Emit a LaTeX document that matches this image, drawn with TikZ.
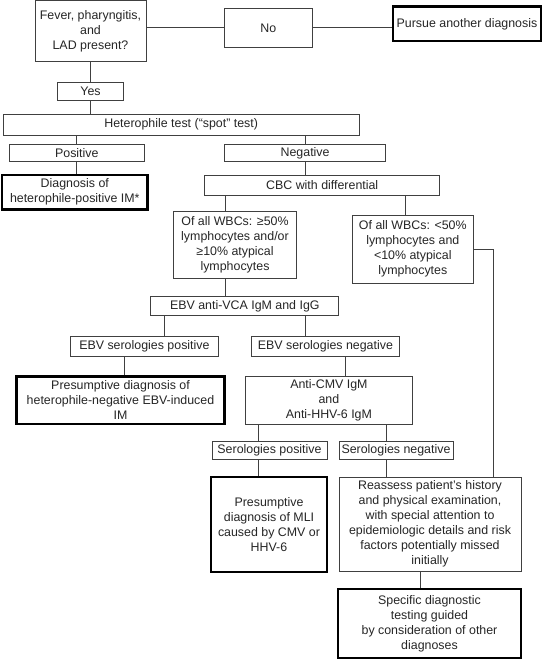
\documentclass[tikz,border=0pt]{standalone}
\usepackage{fontspec}
\setmainfont{Liberation Sans}
\begin{document}
\begin{tikzpicture}[x=1pt,y=-1pt,
  box/.style={draw=black!75,line width=0.9pt,inner sep=0pt,align=center,
    text=black!85,font=\fontsize{12.4}{15}\selectfont},
  thick box/.style={box,draw=black,line width=2.6pt},
  conn/.style={draw=black!75,line width=0.9pt}]
\useasboundingbox[fill=white] (0,0) rectangle (544,660);
\newcommand{\bx}[6]{\node[#1,minimum width=#4pt,minimum height=#5pt] (#2) at (#3) {#6};}
\bx{box}{fever}{90.5,30.8}{111}{60.5}{Fever, pharyngitis,\\and\\LAD present?}
\bx{box}{no}{268.4,27.8}{87.3}{39}{No}
\bx{thick box}{pursue}{467,23.9}{148}{34.3}{Pursue another diagnosis}
\bx{box}{yes}{90.5,91.4}{65.5}{18.7}{Yes}
\bx{box}{het}{181.2,124.7}{355.5}{20.7}{Heterophile test (“spot” test)}
\bx{box}{pos}{76.8,153.3}{134.3}{16.7}{Positive}
\bx{box}{neg}{305.1,153.3}{160.9}{16.7}{Negative}
\bx{thick box}{diag}{74.8,192.2}{145.6}{34.3}{Diagnosis of\\heterophile-positive IM*}
\bx{box}{cbc}{322.2,185}{235}{20}{CBC with differential}
\bx{box}{lwbc}{235,245}{123}{66.7}{Of all WBCs: ≥50\%\\lymphocytes and/or\\≥10\% atypical\\lymphocytes}
\bx{box}{rwbc}{412.8,249}{120.4}{68}{Of all WBCs: <50\%\\lymphocytes and\\<10\% atypical\\lymphocytes}
\bx{box}{vca}{244.8,306.2}{188}{19}{EBV anti-VCA IgM and IgG}
\bx{box}{ebvp}{144.4,346.7}{148}{20}{EBV serologies positive}
\bx{box}{ebvn}{325.4,346.7}{148}{20}{EBV serologies negative}
\bx{thick box}{pres}{120.5,400.3}{208.4}{47.3}{Presumptive diagnosis of\\heterophile-negative EBV-induced\\IM}
\bx{box}{cmv}{328.9,400.3}{167.5}{47.3}{Anti-CMV IgM\\and\\Anti-HHV-6 IgM}
\bx{box}{serp}{269.5,450}{115}{18}{Serologies positive}
\bx{box}{sern}{396,450}{114}{18}{Serologies negative}
\bx{thick box}{mli}{269,524.5}{116}{95}{Presumptive\\diagnosis of MLI\\caused by CMV or\\HHV-6}
\bx{box}{reas}{430,524}{182}{94}{Reassess patient’s history\\and physical examination,\\with special attention to\\epidemiologic details and risk\\factors potentially missed\\initially}
\bx{thick box}{spec}{429.5,623.5}{183}{69}{Specific diagnostic\\testing guided\\by consideration of other\\diagnoses}
\coordinate (rj) at ([xshift=63pt]reas.north);
\draw[conn] (no.west) -- (no.west -| fever.east);
\draw[conn] (no.east) -- (no.east -| pursue.west);
\draw[conn] (fever.south) -- (yes.north);
\draw[conn] (yes.south) -- (yes.south |- het.north);
\draw[conn] (pos.north) -- (pos.north |- het.south);
\draw[conn] (neg.north) -- (neg.north |- het.south);
\draw[conn] (pos.south) -- (pos.south |- diag.north);
\draw[conn] (neg.south) -- (neg.south |- cbc.north);
\draw[conn] ([xshift=-9.6pt]lwbc.north) -- ([xshift=-9.6pt]lwbc.north |- cbc.south);
\draw[conn] ([xshift=-7.1pt]rwbc.north) -- ([xshift=-7.1pt]rwbc.north |- cbc.south);
\draw[conn] ([xshift=-9.6pt]lwbc.south) -- ([xshift=-9.6pt]lwbc.south |- vca.north);
\draw[conn] ([xshift=20.3pt]ebvp.north) -- ([xshift=20.3pt]ebvp.north |- vca.south);
\draw[conn] ([xshift=-20.4pt]ebvn.north) -- ([xshift=-20.4pt]ebvn.north |- vca.south);
\draw[conn] ([xshift=3.6pt]pres.north) -- ([xshift=3.6pt]pres.north |- ebvp.south);
\draw[conn] ([xshift=20.3pt]ebvn.south) -- ([xshift=20.3pt]ebvn.south |- cmv.north);
\draw[conn] ([xshift=-11.5pt]serp.north) -- ([xshift=-11.5pt]serp.north |- cmv.south);
\draw[conn] ([xshift=-10pt]sern.north) -- ([xshift=-10pt]sern.north |- cmv.south);
\draw[conn] ([xshift=-11.5pt]serp.south) -- ([xshift=-11.5pt]serp.south |- mli.north);
\draw[conn] ([xshift=-10pt]sern.south) -- ([xshift=-10pt]sern.south |- reas.north);
\draw[conn] ([xshift=-9.5pt]spec.north) -- ([xshift=-9.5pt]spec.north |- reas.south);
\draw[conn] (rwbc.east) -| (rj);
\end{tikzpicture}
\end{document}
